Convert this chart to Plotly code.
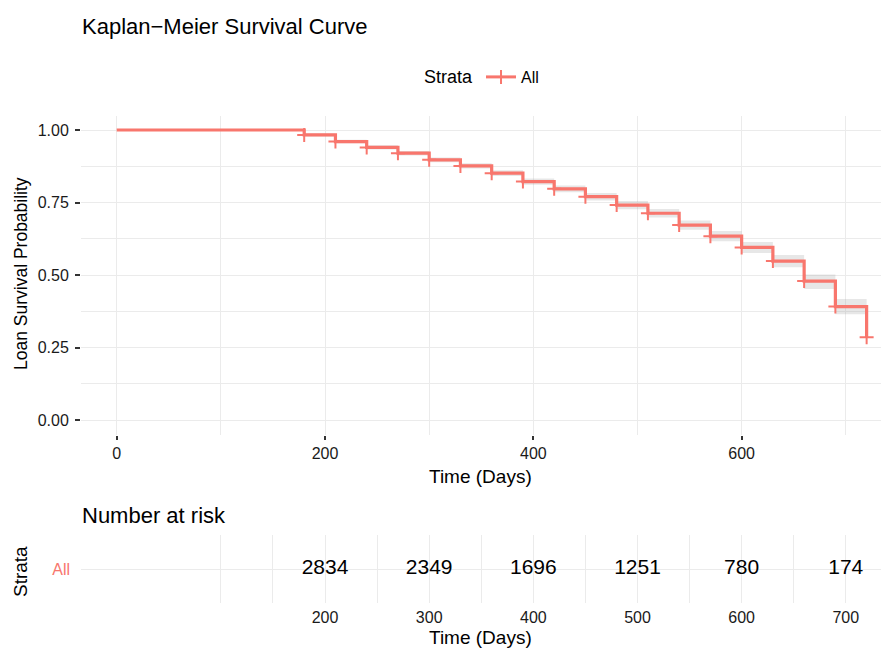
import plotly.graph_objects as go

# ---------------- data ----------------
times = [0, 180, 210, 240, 270, 300, 330, 360, 390, 420, 450, 480, 510, 540, 570, 600, 630, 660, 690, 720]
surv = [1.0, 0.983, 0.960, 0.940, 0.920, 0.897, 0.876, 0.851, 0.822, 0.797, 0.770, 0.741, 0.713, 0.672,
        0.634, 0.595, 0.548, 0.479, 0.391, 0.285]
upper = [1.0, 0.988, 0.966, 0.947, 0.928, 0.905, 0.885, 0.861, 0.833, 0.809, 0.783, 0.755, 0.728, 0.688,
         0.652, 0.614, 0.569, 0.502, 0.417, 0.320]
lower = [1.0, 0.978, 0.954, 0.933, 0.912, 0.889, 0.867, 0.841, 0.811, 0.785, 0.757, 0.727, 0.698, 0.656,
         0.616, 0.576, 0.527, 0.452, 0.365, 0.250]
censor_times = times[1:]
censor_surv = surv[1:]

risk_times = [200, 300, 400, 500, 600, 700]
risk_counts = [2834, 2349, 1696, 1251, 780, 174]
strata = "All"

x_ticks = [0, 200, 400, 600]
x_minor = [100, 300, 500, 700]
y_ticks = [0.0, 0.25, 0.5, 0.75, 1.0]
y_tick_labels = ["0.00", "0.25", "0.50", "0.75", "1.00"]
y_minor = [0.125, 0.375, 0.625, 0.875]
risk_grid = [100, 200, 300, 400, 500, 600, 700]
risk_grid_labels = ["", "200", "300", "400", "500", "600", "700"]
risk_minor = [150, 250, 350, 450, 550, 650]

# ---------------- layout helpers ----------------
W, H = 883, 648
FONT = "Liberation Sans, Arial, sans-serif"
RED = "#F8766D"
GRID = "#EBEBEB"


def fx(p):
    return p / W


def fy(p):
    return 1 - p / H


xrange_ = [-34.3, 733.8]

fig = go.Figure()

# confidence band
fig.add_trace(go.Scatter(x=times, y=lower, mode="lines", line=dict(shape="hv", width=0),
                         hoverinfo="skip", showlegend=False, xaxis="x", yaxis="y"))
fig.add_trace(go.Scatter(x=times, y=upper, mode="lines", line=dict(shape="hv", width=0),
                         fill="tonexty", fillcolor="rgba(160,160,160,0.25)",
                         hoverinfo="skip", showlegend=False, xaxis="x", yaxis="y"))
# survival curve
fig.add_trace(go.Scatter(x=times, y=surv, mode="lines", line=dict(shape="hv", width=3.2, color=RED),
                         showlegend=False, xaxis="x", yaxis="y"))
# censor marks
fig.add_trace(go.Scatter(x=censor_times, y=censor_surv, mode="markers",
                         marker=dict(symbol="cross-thin", size=10, color=RED, line=dict(width=2, color=RED)),
                         showlegend=False, xaxis="x", yaxis="y"))
# legend entry
fig.add_trace(go.Scatter(x=[None], y=[None], mode="lines+markers", name=strata,
                         line=dict(width=3, color=RED),
                         marker=dict(symbol="cross-thin", size=10, color=RED, line=dict(width=2, color=RED)),
                         showlegend=True, xaxis="x", yaxis="y"))

# risk table numbers
fig.add_trace(go.Scatter(x=risk_times, y=[1] * len(risk_times), mode="text",
                         text=[str(v) for v in risk_counts],
                         textfont=dict(size=21, color="black", family=FONT),
                         showlegend=False, xaxis="x2", yaxis="y2", hoverinfo="skip"))

axis_common = dict(showline=False, zeroline=False, gridcolor=GRID, gridwidth=1.3,
                   tickfont=dict(size=16, color="#1a1a1a", family=FONT))

fig.update_layout(
    width=W, height=H,
    margin=dict(l=0, r=0, t=0, b=0),
    paper_bgcolor="white", plot_bgcolor="white",
    font=dict(family=FONT, color="black"),
    xaxis=dict(domain=[fx(81), fx(881)], range=xrange_, tickvals=x_ticks,
               ticks="outside", ticklen=4, tickwidth=1.5, tickcolor="#333",
               minor=dict(tickvals=x_minor, showgrid=True, gridcolor=GRID, gridwidth=0.8, ticks=""),
               anchor="y", **axis_common),
    yaxis=dict(domain=[fy(434.5), fy(115.5)], range=[-0.05, 1.05], tickvals=y_ticks, ticktext=y_tick_labels,
               ticks="outside", ticklen=5, tickwidth=1.5, tickcolor="#333", ticklabelstandoff=3,
               minor=dict(tickvals=y_minor, showgrid=True, gridcolor=GRID, gridwidth=0.8, ticks=""),
               anchor="x", **axis_common),
    xaxis2=dict(domain=[fx(81), fx(881)], range=xrange_, tickvals=risk_grid, ticktext=risk_grid_labels,
                ticks="", ticklabelstandoff=3,
                minor=dict(tickvals=risk_minor, showgrid=True, gridcolor=GRID, gridwidth=1.0, ticks=""),
                anchor="y2", showline=False, zeroline=False, gridcolor=GRID, gridwidth=1.0,
                tickfont=dict(size=16, color="#1a1a1a", family=FONT)),
    yaxis2=dict(domain=[fy(603), fy(535)], range=[0.4, 1.6], tickvals=[1], ticktext=[strata],
                ticks="", ticklabelstandoff=10, anchor="x2", showline=False, zeroline=False,
                gridcolor=GRID, gridwidth=1.3,
                tickfont=dict(size=16, color=RED, family=FONT)),
    legend=dict(orientation="h", x=fx(483), xanchor="center", y=fy(60), yanchor="top",
                title=dict(text="Strata", font=dict(size=18, family=FONT, color="black")),
                font=dict(size=16, family=FONT, color="black"), bgcolor="rgba(0,0,0,0)"),
    annotations=[
        dict(text="Kaplan\u2212Meier Survival Curve", x=fx(80), y=fy(27), xref="paper", yref="paper",
             xanchor="left", yanchor="middle", showarrow=False, font=dict(size=22, family=FONT, color="black")),
        dict(text="Loan Survival Probability", x=fx(21), y=fy(274), xref="paper", yref="paper",
             xanchor="center", yanchor="middle", textangle=-90, showarrow=False,
             font=dict(size=17.5, family=FONT, color="black")),
        dict(text="Time (Days)", x=fx(481), y=fy(476), xref="paper", yref="paper",
             xanchor="center", yanchor="middle", showarrow=False, font=dict(size=19, family=FONT, color="black")),
        dict(text="Number at risk", x=fx(80), y=fy(515), xref="paper", yref="paper",
             xanchor="left", yanchor="middle", showarrow=False, font=dict(size=22, family=FONT, color="black")),
        dict(text="Strata", x=fx(20), y=fy(572), xref="paper", yref="paper",
             xanchor="center", yanchor="middle", textangle=-90, showarrow=False,
             font=dict(size=19, family=FONT, color="black")),
        dict(text="Time (Days)", x=fx(481), y=fy(637), xref="paper", yref="paper",
             xanchor="center", yanchor="middle", showarrow=False, font=dict(size=19, family=FONT, color="black")),
    ],
)

fig.write_html("out.html")
